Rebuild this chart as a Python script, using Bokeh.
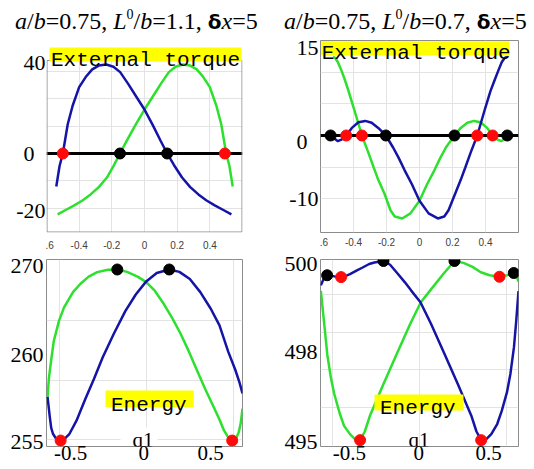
from bokeh.plotting import figure
from bokeh.layouts import row, column
from bokeh.models import Range1d, FixedTicker, Span, Label, BoxAnnotation, Div
from bokeh.embed import file_html
from bokeh.resources import INLINE

SERIF = "Liberation Serif, Times New Roman, serif"
MONO = "Liberation Mono, Courier New, monospace"
SANS = "Liberation Sans, Arial, sans-serif"
BLUE = "#1414a6"
GREEN = "#2ee02e"
RED = "#ff0a0a"
BLACK = "#000000"
YELLOW = "#ffff00"
OUTLINE = "#8c8c8c"
GRID = "#e3e3e3"
FIG_SPACE = "\u2007"

# ---------------- texts ----------------
title_left_parts = ["a", "/", "b", "=0.75,", " ", "L", "0", "/", "b", "=1.1,", " ", "\u03b4", "x", "=5"]
title_right_parts = ["a", "/", "b", "=0.75,", " ", "L", "0", "/", "b", "=0.7,", " ", "\u03b4", "x", "=5"]
title_styles = ["it", "rm", "it", "rm", "sp", "it", "sup", "rm", "it", "rm", "sp", "gr", "it", "rm"]
torque_label = "External torque"
energy_label = "Energy"
q_label = "q1"

# ---------------- panel 1: torque, L0/b = 1.1 ----------------
tq1_blue_q = [-0.540, -0.52, -0.50, -0.47, -0.44, -0.40, -0.36, -0.32, -0.28, -0.234, -0.19, -0.149, -0.10,
              -0.05, 0.0, 0.05, 0.10, 0.139, 0.18, 0.23, 0.28, 0.33, 0.38, 0.43, 0.48, 0.532]
tq1_blue = [-12.1, -4.6, 0.0, 10.7, 17.5, 24.3, 28.0, 30.8, 32.2, 32.6, 31.8, 29.8, 25.5,
            20.8, 16.1, 10.5, 4.5, 0.0, -4.2, -8.8, -12.3, -15.0, -17.2, -19.0, -20.6, -22.3]
tq1_green_q = [-0.532, -0.48, -0.43, -0.38, -0.33, -0.28, -0.23, -0.19, -0.15, -0.11, -0.055, 0.0, 0.05,
               0.10, 0.149, 0.19, 0.234, 0.28, 0.32, 0.36, 0.40, 0.44, 0.47, 0.50, 0.52, 0.540]
tq1_green = [-22.3, -20.6, -19.0, -17.2, -15.0, -12.3, -8.8, -4.6, 0.0, 4.5, 10.5, 16.1, 20.8,
             25.5, 29.8, 31.8, 32.6, 32.2, 30.8, 28.0, 24.3, 17.5, 10.7, 0.0, -4.6, -12.1]
tq1_black_q = [-0.15, 0.139]
tq1_black = [0.0, 0.0]
tq1_red_q = [-0.50, 0.492]
tq1_red = [0.0, 0.0]

# ---------------- panel 2: torque, L0/b = 0.7 ----------------
tq2_blue_q = [-0.535, -0.51, -0.495, -0.47, -0.444, -0.41, -0.37, -0.329, -0.29, -0.25, -0.204, -0.16,
              -0.127, -0.09, -0.046, 0.0, 0.055, 0.111, 0.15, 0.176, 0.216, 0.25, 0.277, 0.31, 0.35,
              0.398, 0.43, 0.459, 0.48, 0.499, 0.515, 0.53]
tq2_blue = [0.0, -0.6, -0.9, -0.6, 0.0, 1.2, 2.1, 2.3, 2.0, 1.2, 0.0, -1.9,
            -3.5, -5.5, -7.7, -10.3, -12.3, -13.1, -12.8, -11.8, -9.2, -7.0, -5.1, -2.7, 0.0,
            4.3, 7.0, 9.0, 10.4, 11.6, 12.2, 12.4]
tq2_green_q = [-0.525, -0.51, -0.495, -0.475, -0.455, -0.43, -0.398, -0.349, -0.31, -0.277, -0.25,
               -0.212, -0.176, -0.15, -0.105, -0.055, 0.0, 0.046, 0.09, 0.127, 0.16, 0.212, 0.25,
               0.29, 0.33, 0.37, 0.41, 0.443, 0.47, 0.495, 0.51]
tq2_green = [12.4, 12.2, 11.6, 10.4, 9.0, 7.0, 4.3, 0.0, -2.7, -5.1, -7.0,
             -9.2, -11.8, -12.8, -13.1, -12.3, -10.3, -7.7, -5.5, -3.5, -1.9, 0.0, 1.2,
             2.0, 2.3, 2.1, 1.2, 0.0, -0.6, -0.9, -0.7]
tq2_black_q = [-0.539, -0.204, 0.212, 0.532]
tq2_black = [0.0, 0.0, 0.0, 0.0]
tq2_red_q = [-0.444, -0.349, 0.350, 0.443]
tq2_red = [0.0, 0.0, 0.0, 0.0]

# ---------------- panel 3: energy, L0/b = 1.1 ----------------
en1_blue_q = [-0.566, -0.553, -0.545, -0.535, -0.52, -0.505, -0.491, -0.47, -0.44, -0.40, -0.35, -0.30,
              -0.25, -0.186, -0.12, -0.06, 0.0, 0.06, 0.132, 0.19, 0.25, 0.31, 0.37, 0.42, 0.47,
              0.51, 0.535, 0.552]
en1_blue = [258.6, 256.9, 256.0, 255.5, 255.15, 254.98, 254.93, 255.05, 255.5, 256.6, 258.4, 260.1,
            261.9, 263.9, 265.8, 267.2, 268.3, 269.0, 269.3, 269.1, 268.5, 267.4, 266.0, 264.6, 262.4,
            260.9, 259.8, 258.9]
en1_green_q = [-0.566, -0.558, -0.545, -0.53, -0.50, -0.472, -0.42, -0.377, -0.33, -0.281, -0.22,
               -0.166, -0.11, -0.05, 0.0, 0.05, 0.101, 0.15, 0.197, 0.245, 0.292, 0.34, 0.388, 0.42,
               0.445, 0.47, 0.493, 0.515, 0.53, 0.542, 0.552]
en1_green = [258.6, 260.2, 261.7, 263.3, 265.0, 266.1, 267.4, 268.1, 268.7, 269.08, 269.28,
             269.3, 269.1, 268.7, 268.24, 267.5, 266.4, 265.2, 263.9, 262.4, 260.8, 259.2, 257.7, 256.7,
             255.8, 255.2, 254.93, 255.1, 255.6, 256.4, 257.6]
en1_black_q = [-0.166, 0.132]
en1_black = [269.3, 269.3]
en1_red_q = [-0.491, 0.493]
en1_red = [254.93, 254.93]

# ---------------- panel 4: energy, L0/b = 0.7 ----------------
en2_blue_q = [-0.567, -0.548, -0.531, -0.51, -0.49, -0.471, -0.451, -0.43, -0.40, -0.36, -0.33, -0.29,
              -0.26, -0.208, -0.17, -0.126, -0.085, -0.049, 0.004, 0.065, 0.142, 0.218, 0.295, 0.325,
              0.352, 0.38, 0.41, 0.444, 0.47, 0.50, 0.52, 0.54, 0.553, 0.566]
en2_blue = [499.25, 499.45, 499.52, 499.51, 499.49, 499.47, 499.47, 499.49, 499.55, 499.65, 499.72, 499.82,
            499.86, 499.9, 499.8, 499.56, 499.33, 499.11, 498.8, 498.22, 497.42, 496.62, 495.78, 495.35,
            495.12, 495.14, 495.28, 495.55, 495.9, 496.4, 496.9, 497.6, 498.3, 499.1]
en2_green_q = [-0.567, -0.545, -0.53, -0.51, -0.49, -0.46, -0.434, -0.40, -0.37, -0.342, -0.315, -0.285,
               -0.208, -0.132, -0.055, 0.006, 0.059, 0.136, 0.199, 0.25, 0.30, 0.35, 0.40, 0.457, 0.50,
               0.539, 0.555, 0.566]
en2_green = [499.1, 498.1, 497.4, 496.8, 496.35, 495.85, 495.5, 495.28, 495.14, 495.12, 495.35, 495.78,
             496.62, 497.42, 498.22, 498.8, 499.11, 499.56, 499.9, 499.85, 499.75, 499.6, 499.52, 499.48,
             499.52, 499.58, 499.5, 499.35]
en2_black_q = [-0.531, -0.208, 0.199, 0.539]
en2_black = [499.52, 499.9, 499.9, 499.58]
en2_red_q = [-0.451, 0.352, -0.342, 0.457]
en2_red = [499.47, 495.12, 495.12, 499.48]

# ---------------- ticks ----------------
tq_x_ticks = [-0.58, -0.4, -0.2, 0, 0.2, 0.4]
tq_x_labels = [".6", "-0.4", "-0.2", "0", "0.2", "0.4"]
tq_x_grid = [-0.4, -0.2, 0, 0.2, 0.4]

tq1_y_ticks = [-20.8, 0, 33.3]
tq1_y_labels = ["-20", "0" + FIG_SPACE, "40"]
tq1_y_grid = [-20, -10, 10, 20, 30]

tq2_y_ticks = [-10, -0.9, 14.3]
tq2_y_labels = ["-10", "0" + FIG_SPACE, "15"]
tq2_y_grid = [-10, -5, 5, 10]

en1_y_ticks = [254.79, 262.13, 269.57]
en1_y_labels = ["255", "260", "270"]
en1_y_grid = [255, 260, 265]
en1_x_ticks = [-0.434, -0.014, 0.369]
en1_x_labels = ["-0.5", "0", "0.5"]
en_x_grid = [-0.5, 0, 0.5]

en2_y_ticks = [495.06, 497.47, 499.81]
en2_y_labels = ["495", "498", "500"]
en2_y_grid = [496, 497, 498, 499]
en2_x_ticks = [-0.403, -0.006, 0.395]
en2_x_labels = ["-0.5", "0", "0.5"]


def panel(width, height, xr, yr, borders, ylab_size, ylab_standoff):
    l, r, t, b = borders
    p = figure(width=width, height=height, x_range=Range1d(*xr), y_range=Range1d(*yr),
               output_backend="svg", toolbar_location=None, tools="",
               min_border_left=l, min_border_right=r, min_border_top=t, min_border_bottom=b)
    p.title.visible = False
    p.background_fill_color = "white"
    p.border_fill_color = "white"
    p.outline_line_color = OUTLINE
    p.outline_line_width = 1
    p.grid.grid_line_color = GRID
    p.grid.grid_line_width = 1
    for ax in p.axis:
        ax.axis_line_color = None
        ax.major_tick_line_color = None
        ax.minor_tick_line_color = None
        ax.major_tick_in = 0
        ax.major_tick_out = 0
        ax.minor_tick_in = 0
        ax.minor_tick_out = 0
    p.yaxis.major_label_text_font = SERIF
    p.yaxis.major_label_text_font_size = f"{ylab_size}px"
    p.yaxis.major_label_text_color = "black"
    p.yaxis.major_label_standoff = ylab_standoff
    return p


def set_y(p, ticks, labels, grid):
    p.yaxis.ticker = FixedTicker(ticks=ticks)
    p.yaxis.major_label_overrides = dict(zip(ticks, labels))
    p.ygrid.ticker = FixedTicker(ticks=grid)


def set_top_x(p, standoff):
    p.xaxis.ticker = FixedTicker(ticks=tq_x_ticks)
    p.xaxis.major_label_overrides = dict(zip(tq_x_ticks, tq_x_labels))
    p.xaxis.major_label_text_font = SANS
    p.xaxis.major_label_text_font_size = "10px"
    p.xaxis.major_label_text_color = "#404040"
    p.xaxis.major_label_standoff = standoff
    p.xgrid.ticker = FixedTicker(ticks=tq_x_grid)


def set_bottom_x(p, ticks, labels, standoff):
    p.xaxis.ticker = FixedTicker(ticks=ticks)
    p.xaxis.major_label_overrides = dict(zip(ticks, labels))
    p.xaxis.major_label_text_font = SERIF
    p.xaxis.major_label_text_font_size = "21px"
    p.xaxis.major_label_text_color = "black"
    p.xaxis.major_label_standoff = standoff
    p.xgrid.ticker = FixedTicker(ticks=en_x_grid)


def box(p, l, r, t, b, fill=None, line=None):
    p.add_layout(BoxAnnotation(left=l, right=r, top=t, bottom=b, left_units="screen", right_units="screen",
                               top_units="screen", bottom_units="screen",
                               fill_color=fill, fill_alpha=1.0 if fill else 0.0,
                               line_color=line, line_width=1, line_alpha=1.0))


def tag(p, text, x, y, font, size):
    p.add_layout(Label(x=x, y=y, x_units="screen", y_units="screen", text=text, text_font=font,
                       text_font_size=f"{size}px", text_color="black", text_align="center",
                       text_baseline="alphabetic"))


def curves(p, bq, bv, gq, gv, kq, kv, rq, rv):
    p.line(gq, gv, line_color=GREEN, line_width=2.5)
    p.line(bq, bv, line_color=BLUE, line_width=2.5)
    p.scatter(kq, kv, size=11, fill_color=BLACK, line_color=BLACK)
    p.scatter(rq, rv, size=11, fill_color=RED, line_color=RED)


def title_html(parts, styles, left):
    out = []
    for txt, st in zip(parts, styles):
        if st == "it":
            out.append(f"<i>{txt}</i>")
        elif st == "rm":
            out.append(txt)
        elif st == "sp":
            out.append(" ")
        elif st == "sup":
            out.append(f'<span style="font-size:14px;position:relative;top:-10px;">{txt}</span>')
        else:
            out.append(f'<b style="font-family:\'DejaVu Sans\',sans-serif;font-size:20px;">{txt}</b>')
    return (f'<span style="position:absolute;left:{left}px;top:9px;line-height:24px;white-space:nowrap;">'
            + "".join(out) + "</span>")


# ---------------- title row ----------------
title_div = Div(
    text=('<div style="position:relative;width:534px;height:34px;font-family:\'Liberation Serif\','
          '\'Times New Roman\',serif;font-size:24px;color:black;">'
          + title_html(title_left_parts, title_styles, 15)
          + title_html(title_right_parts, title_styles, 284) + "</div>"),
    width=534, height=34, margin=(0, 0, 0, 0))

# ---------------- panel 1 ----------------
p1 = panel(270, 218, (-0.6, 0.6), (-28.94, 41.39), (46, 28, 6, 20), 22, 1)
p1.outline_line_color = None
set_y(p1, tq1_y_ticks, tq1_y_labels, tq1_y_grid)
set_top_x(p1, 8)
p1.add_layout(Span(location=0, dimension="width", line_color="black", line_width=3, level="underlay"))
curves(p1, tq1_blue_q, tq1_blue, tq1_green_q, tq1_green, tq1_black_q, tq1_black, tq1_red_q, tq1_red)
box(p1, 0.5, 195.5, 172, 0.5, line=OUTLINE)
box(p1, 0, 196, 192, 185, fill="white")
box(p1, 3, 195, 185, 171, fill=YELLOW)
tag(p1, torque_label, 99, 172, MONO, 21)

# ---------------- panel 2 ----------------
p2 = panel(264, 218, (-0.6, 0.6), (-15.32, 15.0), (50, 16, 6, 20), 22, 2)
set_y(p2, tq2_y_ticks, tq2_y_labels, tq2_y_grid)
set_top_x(p2, 5)
p2.add_layout(Span(location=0, dimension="width", line_color="black", line_width=3, level="underlay"))
curves(p2, tq2_blue_q, tq2_blue, tq2_green_q, tq2_green, tq2_black_q, tq2_black, tq2_red_q, tq2_red)
box(p2, 0.7, 189, 191.3, 177, fill=YELLOW)
tag(p2, torque_label, 95.7, 178.7, MONO, 21)

# ---------------- panel 3 ----------------
p3 = panel(270, 217, (-0.572, 0.552), (254.43, 270.14), (46, 28, 7, 23), 22, 3)
set_y(p3, en1_y_ticks, en1_y_labels, en1_y_grid)
set_bottom_x(p3, en1_x_ticks, en1_x_labels, -1)
curves(p3, en1_blue_q, en1_blue, en1_green_q, en1_green, en1_black_q, en1_black, en1_red_q, en1_red)
box(p3, 59, 147.3, 56, 39.3, fill=YELLOW)
tag(p3, energy_label, 102.3, 41, MONO, 21)
box(p3, 74, 111, 19, 1, fill="white")
tag(p3, q_label, 96.5, 7, SERIF, 21)

# ---------------- panel 4 ----------------
p4 = panel(264, 217, (-0.569, 0.566), (494.95, 499.94), (50, 16, 7, 23), 22, 3)
set_y(p4, en2_y_ticks, en2_y_labels, en2_y_grid)
set_bottom_x(p4, en2_x_ticks, en2_x_labels, -1)
curves(p4, en2_blue_q, en2_blue, en2_green_q, en2_green, en2_black_q, en2_black, en2_red_q, en2_red)
box(p4, 54, 143, 52, 36, fill=YELLOW)
tag(p4, energy_label, 97.3, 37.7, MONO, 21)
tag(p4, q_label, 98.5, 7, SERIF, 21)

layout = column(title_div, row(p1, p2), row(p3, p4))
open("out.html", "w").write(file_html(layout, INLINE))
